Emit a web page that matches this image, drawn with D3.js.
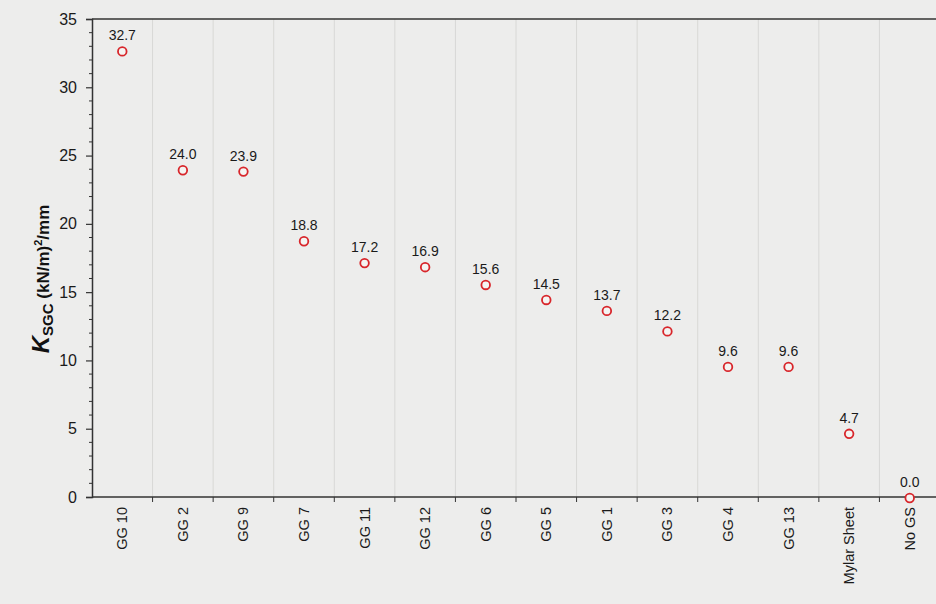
<!DOCTYPE html>
<html><head><meta charset="utf-8">
<script src="https://cdn.jsdelivr.net/npm/d3@7"></script>
<style>html,body{margin:0;padding:0;background:#ededec;}svg{display:block;font-family:Arial,"Liberation Sans",sans-serif;}</style>
</head><body><svg id="c" width="936" height="604"></svg>
<script>
const categories = ["GG 10","GG 2","GG 9","GG 7","GG 11","GG 12","GG 6","GG 5","GG 1","GG 3","GG 4","GG 13","Mylar Sheet","No GS"];
const values = [32.7,24.0,23.9,18.8,17.2,16.9,15.6,14.5,13.7,12.2,9.6,9.6,4.7,0.0];
const yTicks = [0,5,10,15,20,25,30,35];

const svg = d3.select("#c");
const m = {left:92, top:19, right:940, bottom:497};
svg.append("rect").attr("width",936).attr("height",604).attr("fill","#ededec");

const x = d3.scaleBand().domain(categories).range([m.left,m.right]).padding(0);
const y = d3.scaleLinear().domain([0,35]).range([m.bottom,m.top]);

const bounds = categories.slice(1).map(c=>x(c));
svg.append("g").selectAll("line").data(bounds).join("line")
  .attr("x1",d=>d).attr("x2",d=>d).attr("y1",m.top).attr("y2",m.bottom)
  .attr("stroke","#d8d8d6").attr("stroke-width",1);

svg.append("line").attr("x1",m.left).attr("x2",936).attr("y1",m.top).attr("y2",m.top)
  .attr("stroke","#333").attr("stroke-width",1.6);

const ya = svg.append("g").attr("transform",`translate(${m.left},0)`)
  .call(d3.axisLeft(y).tickValues(yTicks).tickSize(6).tickPadding(9).tickFormat(d3.format("d")));
ya.select(".domain").attr("stroke","#333").attr("stroke-width",1.5);
ya.selectAll(".tick line").attr("stroke","#333").attr("stroke-width",1.2);
ya.selectAll(".tick text").attr("font-size",16).attr("fill","#1a1a1a").attr("font-family","Arial, Liberation Sans, sans-serif");
const minor = d3.range(0,36).filter(v=>v%5!==0);
svg.append("g").selectAll("line").data(minor).join("line")
  .attr("x1",m.left-3).attr("x2",m.left).attr("y1",d=>y(d)).attr("y2",d=>y(d))
  .attr("stroke","#333").attr("stroke-width",1);

svg.append("line").attr("x1",m.left).attr("x2",936).attr("y1",m.bottom).attr("y2",m.bottom)
  .attr("stroke","#333").attr("stroke-width",1.6);
svg.append("g").selectAll("line").data(bounds).join("line")
  .attr("x1",d=>d).attr("x2",d=>d).attr("y1",m.bottom).attr("y2",m.bottom+5)
  .attr("stroke","#333").attr("stroke-width",1);
svg.append("g").selectAll("text").data(categories).join("text")
  .attr("transform",d=>`translate(${x(d)+x.bandwidth()/2+5},${m.bottom+10}) rotate(-90)`)
  .attr("text-anchor","end").attr("font-size",14.5).attr("fill","#1a1a1a").text(d=>d);

const pts = categories.map((c,i)=>({c,v:values[i]}));
svg.append("g").selectAll("circle").data(pts).join("circle")
  .attr("cx",d=>x(d.c)+x.bandwidth()/2).attr("cy",d=>y(d.v)+1)
  .attr("r",4.3).attr("fill","#f4f4f2").attr("stroke","#d8262b").attr("stroke-width",1.8);
svg.append("g").selectAll("text").data(pts).join("text")
  .attr("x",d=>x(d.c)+x.bandwidth()/2).attr("y",d=>y(d.v)-10)
  .attr("text-anchor","middle").attr("font-size",14).attr("fill","#1a1a1a")
  .text(d=>d3.format(".1f")(d.v));

const t = svg.append("text").attr("transform",`translate(49,${(m.top+m.bottom)/2+21}) rotate(-90)`)
  .attr("text-anchor","middle").attr("font-weight","bold").attr("fill","#111");
t.append("tspan").attr("font-size",24).attr("font-style","italic").text("K");
t.append("tspan").attr("font-size",15).attr("dy",4).text("SGC");
t.append("tspan").attr("font-size",17).attr("dy",-4).text(" (kN/m)");
t.append("tspan").attr("font-size",11).attr("dy",-7).text("2");
t.append("tspan").attr("font-size",17).attr("dy",7).text("/mm");
</script></body></html>
